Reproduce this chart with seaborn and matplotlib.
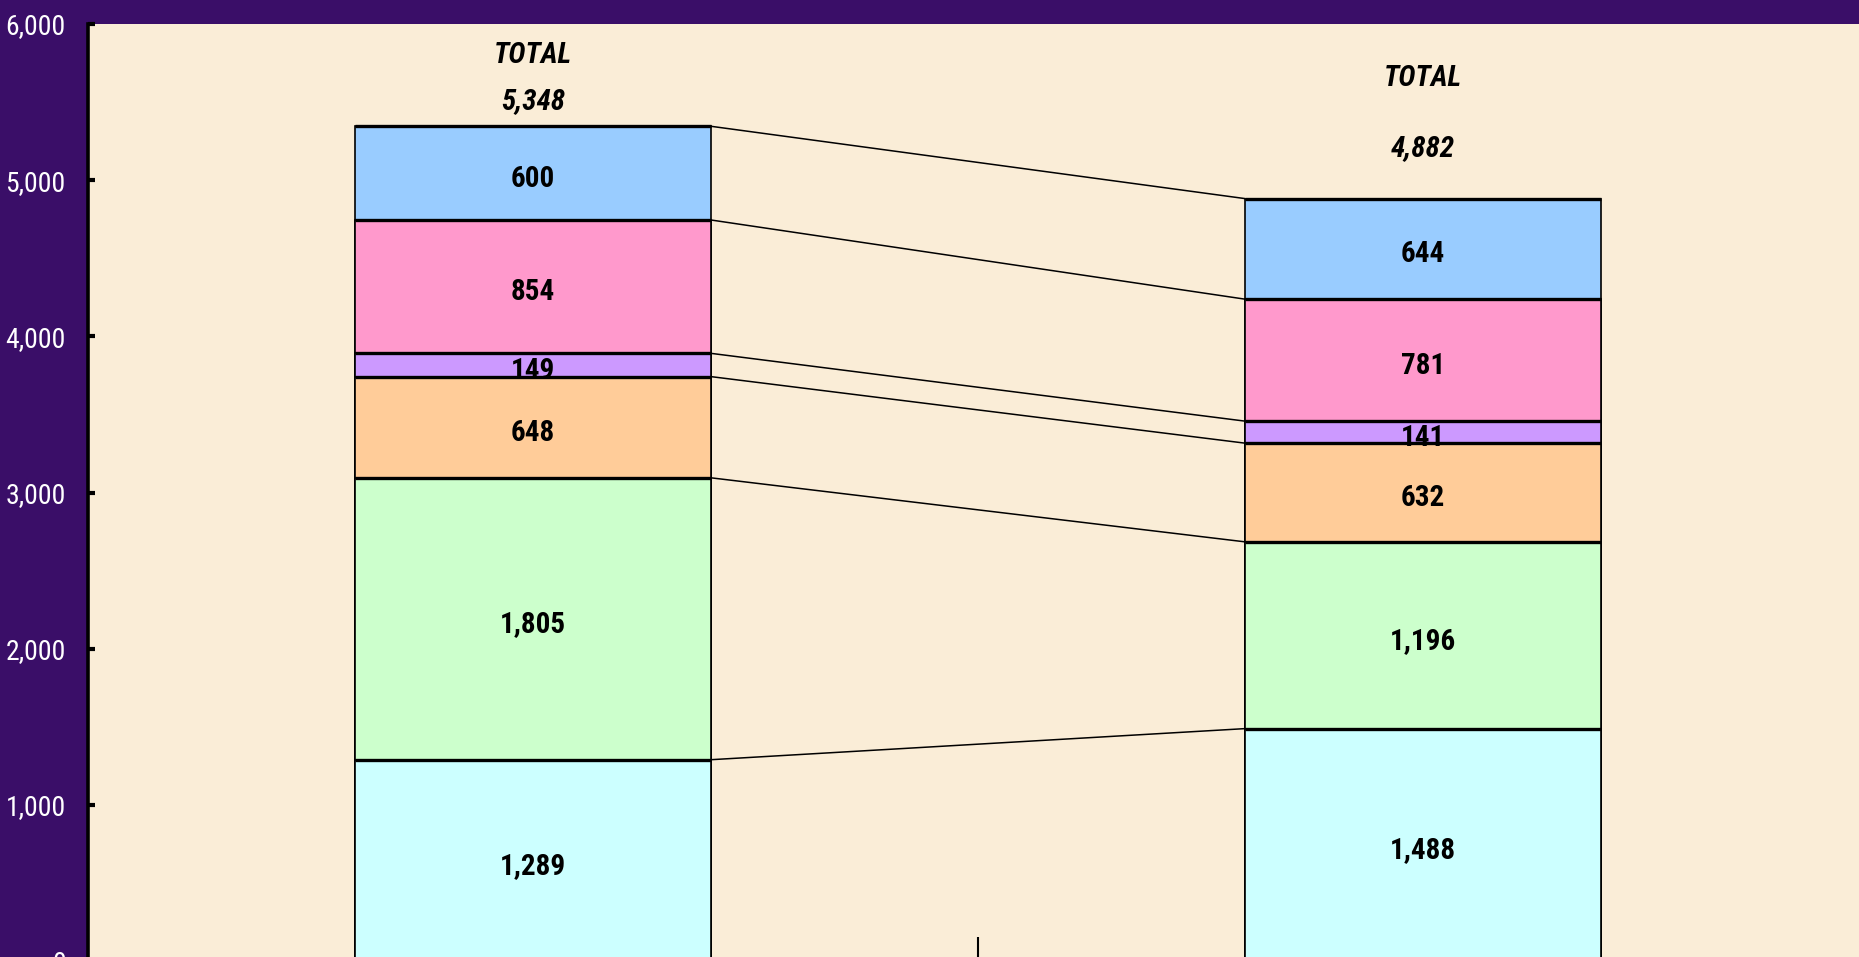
import numpy as np
import pandas as pd
import matplotlib
matplotlib.use("Agg")
import matplotlib.pyplot as plt
from matplotlib import font_manager
import seaborn as sns

# ---------------- data ----------------
categories = ["Period 1", "Period 2"]
series_names = ["Series 1", "Series 2", "Series 3", "Series 4", "Series 5", "Series 6"]
s1 = [1289, 1488]
s2 = [1805, 1196]
s3 = [648, 632]
s4 = [149, 141]
s5 = [854, 781]
s6 = [600, 644]
totals = [5348, 4882]
yticks = [0, 1000, 2000, 3000, 4000, 5000, 6000]

# ---------------- style ----------------
colors = ["#CCFFFF", "#CCFFCC", "#FFCC99", "#CC99FF", "#FF99CC", "#99CCFF"]
bg_purple = "#3A0E68"
plot_bg = "#FAEDD7"
bar_width = 0.4
total_offsets_num = [18.5, 36.5]     # points above bar top
total_offsets_word = [51, 87]

# pick a narrow / condensed face if one is installed
names = {f.name for f in font_manager.fontManager.ttflist}
narrow = None
for cand in ["Liberation Sans Narrow", "Roboto Condensed", "Open Sans Condensed",
             "Arial Narrow", "Noto Sans Condensed"]:
    if cand in names:
        narrow = cand
        break
if narrow is None:
    narrow = "DejaVu Sans"
stretch = "condensed"

sns.set_theme(style="white")
plt.rcParams["font.family"] = [narrow, "DejaVu Sans"]
plt.rcParams["font.stretch"] = stretch

fig = plt.figure(figsize=(18.59, 9.57), dpi=100, facecolor=bg_purple)
ax = fig.add_axes([88 / 1859, -4 / 957, 1780 / 1859, 937 / 957])
ax.set_facecolor(plot_bg)

series = np.array([s1, s2, s3, s4, s5, s6])
cum = np.cumsum(series, axis=0)
xs = np.arange(len(categories))

df = pd.DataFrame({
    "category": np.tile(categories, len(series_names)),
    "series": np.repeat(series_names, len(categories)),
    "value": series.flatten(),
    "top": cum.flatten(),
})

# stacked bars: draw cumulative tops from the highest down
for i in reversed(range(len(series_names))):
    sub = df[df["series"] == series_names[i]]
    sns.barplot(data=sub, x="category", y="top", color=colors[i], width=bar_width,
                edgecolor="black", linewidth=1.2, saturation=1, errorbar=None, ax=ax)

# heavier horizontal segment boundaries
for i in range(len(series_names)):
    ax.hlines(cum[i], xs - bar_width / 2, xs + bar_width / 2, colors="black", lw=2.4, zorder=3)

# series lines connecting the stacks
for i in range(len(series_names)):
    ax.plot([xs[0] + bar_width / 2, xs[1] - bar_width / 2], cum[i], color="black", lw=1.1, zorder=3)

# segment value labels
for i in range(len(series_names)):
    for j in range(len(categories)):
        v = series[i, j]
        ax.annotate(f"{v:,}", xy=(xs[j], cum[i, j] - v / 2), xytext=(0, -4),
                    textcoords="offset points", ha="center", va="center",
                    fontsize=21, fontweight="bold", fontstretch=stretch,
                    color="black", zorder=4)

# total labels
for j in range(len(categories)):
    ax.annotate(f"{totals[j]:,}", xy=(xs[j], cum[-1, j]), xytext=(0, total_offsets_num[j]),
                textcoords="offset points", ha="center", va="center",
                fontsize=21, fontweight="bold", fontstyle="italic", fontstretch=stretch,
                color="black")
    ax.annotate("TOTAL", xy=(xs[j], cum[-1, j]), xytext=(0, total_offsets_word[j]),
                textcoords="offset points", ha="center", va="center",
                fontsize=21, fontweight="bold", fontstyle="italic", fontstretch=stretch,
                color="black")

# axes
ax.set_xlim(-0.5, 1.5)
ax.set_ylim(0, 6000)
ax.set_yticks(yticks)
ax.set_yticklabels([f"{v:,}" for v in yticks], color="white", fontsize=20, fontstretch=stretch)
ax.set_xticks([0.5])
ax.set_xticklabels([""])
ax.set_xlabel("")
ax.set_ylabel("")
ax.tick_params(axis="y", direction="in", length=5, width=3, color="black", pad=16, left=True)
ax.tick_params(axis="x", direction="in", length=17, width=1.5, color="black", bottom=True)
for side in ["top", "right", "bottom"]:
    ax.spines[side].set_visible(False)
ax.spines["left"].set_color("black")
ax.spines["left"].set_linewidth(2.6)
ax.grid(False)

fig.savefig("out.png", dpi=100, facecolor=bg_purple)
